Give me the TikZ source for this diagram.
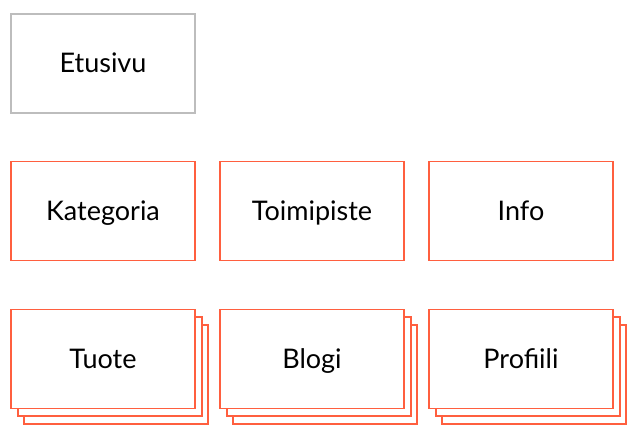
\documentclass[tikz,border=0pt]{standalone}
\usepackage{fontspec}
\setmainfont{Lato}
\definecolor{accent}{HTML}{FF5F3F}
\definecolor{grayline}{HTML}{BDBDBD}
\tikzset{
  boxbase/.style={fill=white, minimum width=184pt, minimum height=99pt, inner sep=0pt, text height=18.4pt, text depth=0pt, font=\fontsize{27}{32}\selectfont},
  page/.style={boxbase, draw=grayline, line width=1.2pt},
  tmpl/.style={boxbase, draw=accent, line width=1.8pt},
}
\begin{document}
\begin{tikzpicture}[x=1pt,y=-1pt]
\useasboundingbox (0,0) rectangle (630,438);
\node[page] (etusivu) at (103,63.5) {Etusivu};
\node[tmpl] (kategoria) at (103,211) {Kategoria};
\node[tmpl] (toimipiste) at (312,211) {Toimipiste};
\node[tmpl] (info) at (521,211) {Info};
\foreach \n/\t/\cx in {tuote/Tuote/103, blogi/Blogi/312, profiili/Profiili/521}{
  \node[tmpl] (\n3) at (\cx+13.3,359+15.4) {};
  \node[tmpl] (\n2) at (\cx+6.7,359+7.4) {};
  \node[tmpl] (\n) at (\cx,359) {\t};
}
\end{tikzpicture}
\end{document}
